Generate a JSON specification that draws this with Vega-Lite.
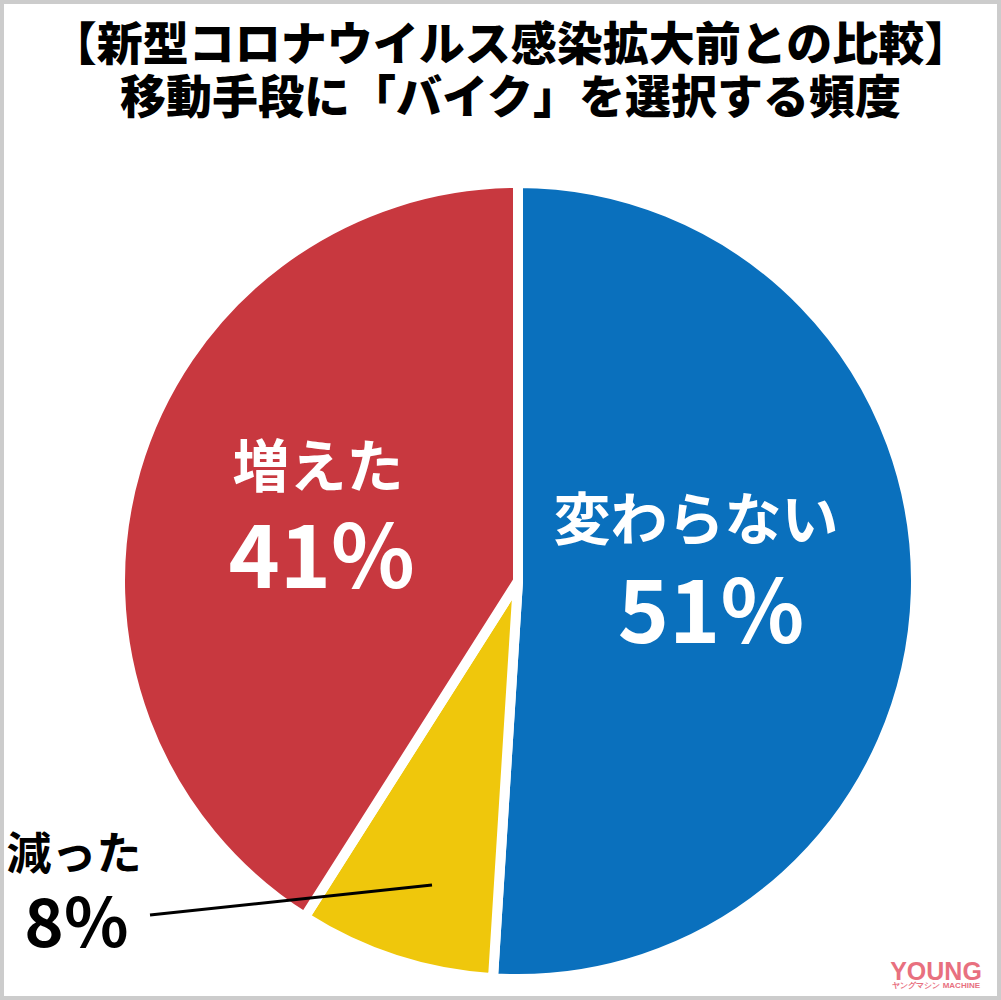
{
  "$schema": "https://vega.github.io/schema/vega-lite/v6.json",
  "width": 1001,
  "height": 1000,
  "autosize": {"type": "none"},
  "padding": 0,
  "background": "white",
  "title": {
    "text": ["【新型コロナウイルス感染拡大前との比較】", "移動手段に「バイク」を選択する頻度"],
    "font": "Noto Sans CJK JP",
    "fontSize": 46,
    "fontWeight": 900,
    "color": "#000000",
    "lineHeight": 53,
    "anchor": "middle",
    "frame": "group",
    "baseline": "top",
    "offset": -123,
    "dx": 10
  },
  "data": {
    "values": [
      {"answer": "変わらない", "share": 0.51, "rank": 1},
      {"answer": "減った", "share": 0.08, "rank": 2},
      {"answer": "増えた", "share": 0.41, "rank": 3}
    ]
  },
  "layer": [
    {
      "mark": {"type": "arc", "outerRadius": 398, "stroke": "white", "strokeWidth": 10},
      "encoding": {
        "x": {"datum": 0, "type": "quantitative", "scale": {"domain": [-129.5, 120.75], "nice": false, "zero": false}, "axis": null},
        "y": {"datum": 0, "type": "quantitative", "scale": {"domain": [-104.75, 145.25], "nice": false, "zero": false}, "axis": null},
        "theta": {"field": "share", "type": "quantitative", "stack": true},
        "order": {"field": "rank", "type": "quantitative"},
        "color": {
          "field": "answer",
          "type": "nominal",
          "scale": {"domain": ["変わらない", "減った", "増えた"], "range": ["#0a70bd", "#efc70c", "#c8383f"]},
          "legend": null
        }
      }
    },
    {
      "transform": [{"filter": "datum.answer === '変わらない'"}],
      "mark": {"type": "text", "font": "Noto Sans CJK JP", "fontSize": 57, "fontWeight": "bold", "color": "white", "align": "center", "baseline": "middle"},
      "encoding": {
        "x": {"datum": 44.5, "type": "quantitative"},
        "y": {"datum": 14.5, "type": "quantitative"},
        "text": {"field": "answer", "type": "nominal"}
      }
    },
    {
      "transform": [{"filter": "datum.answer === '変わらない'"}],
      "mark": {"type": "text", "font": "Noto Sans CJK JP", "fontSize": 87, "fontWeight": "bold", "color": "white", "align": "center", "baseline": "alphabetic"},
      "encoding": {
        "x": {"datum": 48.25, "type": "quantitative"},
        "y": {"datum": -15.5, "type": "quantitative"},
        "text": {"field": "share", "type": "quantitative", "format": ".0%"}
      }
    },
    {
      "transform": [{"filter": "datum.answer === '増えた'"}],
      "mark": {"type": "text", "font": "Noto Sans CJK JP", "fontSize": 57, "fontWeight": "bold", "color": "white", "align": "center", "baseline": "middle"},
      "encoding": {
        "x": {"datum": -50, "type": "quantitative"},
        "y": {"datum": 27.85, "type": "quantitative"},
        "text": {"field": "answer", "type": "nominal"}
      }
    },
    {
      "transform": [{"filter": "datum.answer === '増えた'"}],
      "mark": {"type": "text", "font": "Noto Sans CJK JP", "fontSize": 87, "fontWeight": "bold", "color": "white", "align": "center", "baseline": "alphabetic"},
      "encoding": {
        "x": {"datum": -49.1, "type": "quantitative"},
        "y": {"datum": -1.75, "type": "quantitative"},
        "text": {"field": "share", "type": "quantitative", "format": ".0%"}
      }
    },
    {
      "transform": [{"filter": "datum.answer === '減った'"}],
      "mark": {"type": "rule", "color": "#000000", "strokeWidth": 3},
      "encoding": {
        "x": {"datum": -92, "type": "quantitative"},
        "x2": {"datum": -21.5},
        "y": {"datum": -83.5, "type": "quantitative"},
        "y2": {"datum": -76}
      }
    },
    {
      "transform": [{"filter": "datum.answer === '減った'"}],
      "mark": {"type": "text", "font": "Noto Sans CJK JP", "fontSize": 45, "fontWeight": "bold", "color": "#000000", "align": "center", "baseline": "middle"},
      "encoding": {
        "x": {"datum": -111, "type": "quantitative"},
        "y": {"datum": -68.65, "type": "quantitative"},
        "text": {"field": "answer", "type": "nominal"}
      }
    },
    {
      "transform": [{"filter": "datum.answer === '減った'"}],
      "mark": {"type": "text", "font": "Noto Sans CJK JP", "fontSize": 67, "fontWeight": "bold", "color": "#000000", "align": "center", "baseline": "alphabetic"},
      "encoding": {
        "x": {"datum": -110.4, "type": "quantitative"},
        "y": {"datum": -91.5, "type": "quantitative"},
        "text": {"field": "share", "type": "quantitative", "format": ".0%"}
      }
    },
    {
      "transform": [{"filter": "datum.rank === 1"}],
      "mark": {"type": "text", "font": "Liberation Sans", "fontSize": 25, "fontWeight": "bold", "color": "#e8707f", "align": "center", "baseline": "alphabetic"},
      "encoding": {
        "x": {"datum": 104.5, "type": "quantitative"},
        "y": {"datum": -99.75, "type": "quantitative"},
        "text": {"value": "YOUNG"}
      }
    },
    {
      "transform": [{"filter": "datum.rank === 1"}],
      "mark": {"type": "text", "font": "Liberation Sans", "fontSize": 8, "fontWeight": "bold", "color": "#e8707f", "align": "right", "baseline": "alphabetic"},
      "encoding": {
        "x": {"datum": 115.5, "type": "quantitative"},
        "y": {"datum": -101.75, "type": "quantitative"},
        "text": {"value": "ヤングマシン MACHINE"}
      }
    }
  ],
  "config": {
    "view": {"stroke": "#cccccc", "strokeWidth": 8},
    "font": "Noto Sans CJK JP"
  }
}
